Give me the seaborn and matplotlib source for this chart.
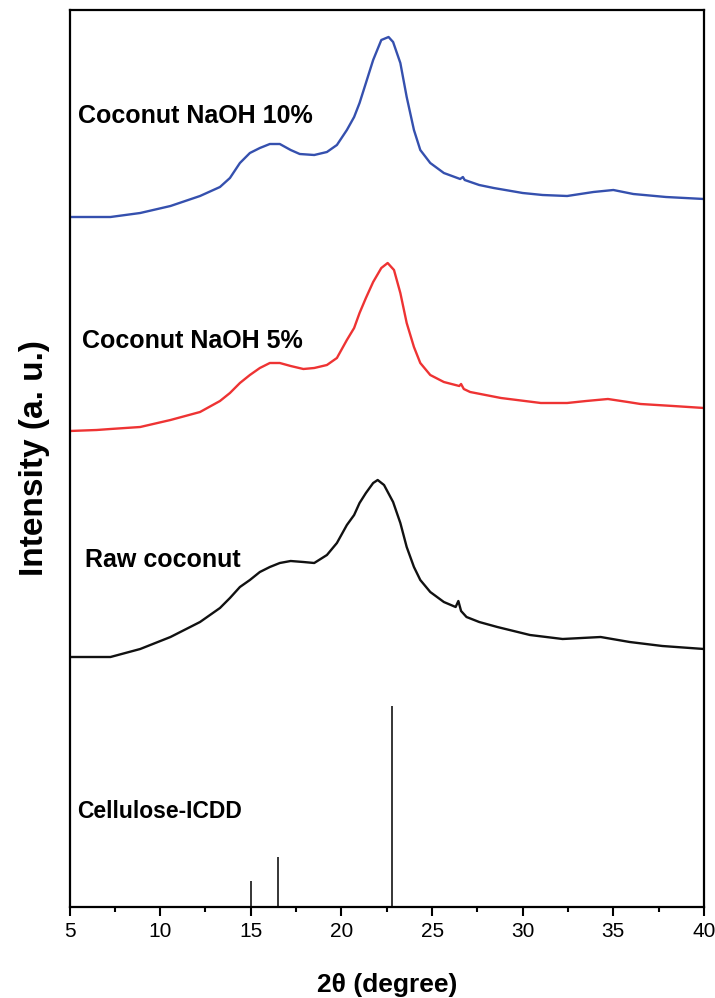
import numpy as np
import pandas as pd
import matplotlib
matplotlib.use("Agg")
import matplotlib.pyplot as plt
from matplotlib.ticker import MultipleLocator
import seaborn as sns

# ---- data (intensity in arbitrary units) ----
raw_x = [5.0, 6.5, 7.26, 8.9, 10.57, 12.2, 13.3, 13.85, 14.4, 14.95, 15.5, 16.05, 16.6,
         17.2, 17.9, 18.5, 19.2, 19.75, 20.3, 20.7, 21.0, 21.35, 21.75, 22.0, 22.35,
         22.85, 23.25, 23.6, 24.0, 24.35, 24.9, 25.65, 26.3, 26.45, 26.6, 26.9, 27.6,
         28.6, 30.4, 32.2, 34.3, 35.9, 37.7, 40.0]
raw_y = [250, 250, 250, 258, 270, 285, 299, 309, 320, 327, 335, 340, 344,
         346, 345, 344, 352, 364, 382, 392, 404, 414, 424, 427, 422,
         405, 384, 360, 340, 327, 315, 305, 300, 306, 296, 290, 285,
         280, 272, 268, 270, 265, 261, 258]

naoh5_x = [5.0, 6.5, 7.26, 8.9, 10.57, 12.2, 13.3, 13.85, 14.4, 14.95, 15.5, 16.05,
           16.6, 17.2, 17.9, 18.5, 19.2, 19.75, 20.3, 20.7, 21.0, 21.35, 21.75, 22.2,
           22.55, 22.9, 23.25, 23.6, 24.0, 24.35, 24.9, 25.65, 26.5, 26.6, 26.75, 27.1,
           28.8, 31.0, 32.45, 33.5, 34.7, 35.8, 36.5, 38.3, 40.0]
naoh5_y = [476, 477, 478, 480, 487, 495, 506, 514, 524, 532, 539, 544,
           544, 541, 538, 539, 542, 549, 567, 579, 594, 609, 625, 639,
           644, 637, 614, 584, 560, 544, 532, 525, 521, 523, 518, 515,
           509, 504, 504, 506, 508, 505, 503, 501, 499]

naoh10_x = [5.0, 6.5, 7.26, 8.9, 10.57, 12.2, 13.3, 13.85, 14.4, 14.95, 15.5, 16.05,
            16.6, 17.2, 17.7, 18.5, 19.2, 19.75, 20.3, 20.7, 21.0, 21.35, 21.75, 22.2,
            22.6, 22.85, 23.25, 23.6, 24.0, 24.35, 24.9, 25.65, 26.55, 26.7, 26.8, 27.6,
            28.4, 30.0, 31.1, 32.45, 33.9, 35.0, 36.1, 37.9, 40.0]
naoh10_y = [690, 690, 690, 694, 701, 711, 720, 729, 744, 754, 759, 763,
            763, 757, 753, 752, 755, 762, 777, 790, 804, 824, 847, 867,
            870, 865, 844, 810, 777, 757, 744, 734, 728, 730, 727, 722,
            719, 714, 712, 711, 715, 717, 713, 710, 708]

icdd_x = [15.0, 16.5, 22.8]
icdd_h = [26, 50, 201]

labels = ["Raw coconut", "Coconut NaOH 5%", "Coconut NaOH 10%", "Cellulose-ICDD"]
xticks = [5, 10, 15, 20, 25, 30, 35, 40]

# ---- build table ----
df = pd.concat([
    pd.DataFrame({"x": raw_x, "y": raw_y, "s": labels[0]}),
    pd.DataFrame({"x": naoh5_x, "y": naoh5_y, "s": labels[1]}),
    pd.DataFrame({"x": naoh10_x, "y": naoh10_y, "s": labels[2]}),
])

sns.set_theme(style="ticks")
plt.rcParams["font.family"] = ["Liberation Sans", "DejaVu Sans"]
plt.rcParams["text.color"] = "black"
plt.rcParams["axes.labelcolor"] = "black"
plt.rcParams["xtick.color"] = "black"
plt.rcParams["ytick.color"] = "black"

fig = plt.figure(figsize=(7.15, 9.98), dpi=100)
ax = fig.add_axes([69.5 / 715, (998 - 907) / 998, (704 - 69.5) / 715, (907 - 10) / 998])

palette = {labels[0]: "#111111", labels[1]: "#EE3333", labels[2]: "#3550AE"}
sns.lineplot(data=df, x="x", y="y", hue="s", palette=palette, linewidth=1.7,
             legend=False, ax=ax, sort=True)
ax.vlines(icdd_x, 0, icdd_h, color="black", linewidth=1.1)

ax.set_xlim(5, 40)
ax.set_ylim(0, 897)
ax.set_xticks(xticks)
ax.set_xticklabels([str(t) for t in xticks])
ax.xaxis.set_minor_locator(MultipleLocator(2.5))
ax.set_yticks([])
ax.tick_params(axis="x", which="major", direction="out", length=6.5, width=1.5,
               labelsize=15, pad=4, colors="black")
ax.tick_params(axis="x", which="minor", direction="out", length=3.6, width=1.5)
for sp in ax.spines.values():
    sp.set_visible(True)
    sp.set_linewidth(1.6)
    sp.set_color("black")

ax.set_xlabel("2θ (degree)", fontsize=19, fontweight="bold", labelpad=23)
ax.set_ylabel("Intensity (a. u.)", fontsize=24, fontweight="bold", labelpad=14)

ax.text(5.47, 784, labels[2], fontsize=18, fontweight="bold", va="baseline", ha="left")
ax.text(5.69, 559, labels[1], fontsize=18, fontweight="bold", va="baseline", ha="left")
ax.text(5.85, 340, labels[0], fontsize=18, fontweight="bold", va="baseline", ha="left")
ax.text(5.41, 89, labels[3], fontsize=16.5, fontweight="bold", va="baseline", ha="left")

fig.savefig("out.png", dpi=100, facecolor="white")
